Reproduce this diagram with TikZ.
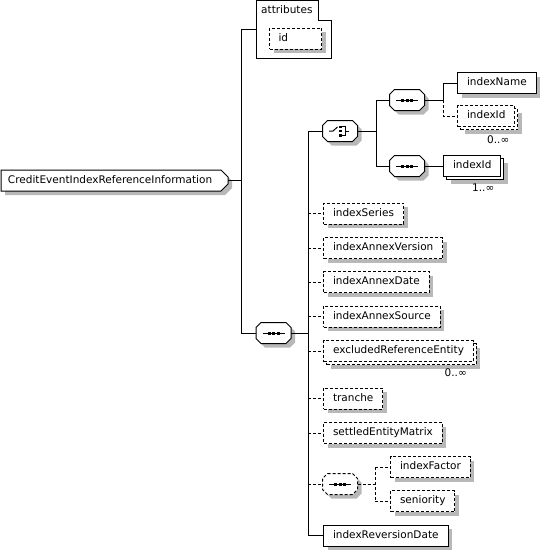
\documentclass[tikz,border=0pt]{standalone}
\usepackage{fontspec}
\setmainfont{DejaVu Sans}
\usetikzlibrary{shadows}
\definecolor{shadowc}{RGB}{184,184,184}
\tikzset{
  diagfont/.style={font=\fontsize{10.5}{12}\selectfont},
  conn/.style={line width=1pt},
  opt/.style={dash pattern=on 3pt off 2pt},
  shadowed/.style={drop shadow={shadow xshift=4pt, shadow yshift=-4pt, fill=shadowc, opacity=1}},
  elem/.style={draw, fill=white, line width=1pt, inner xsep=9.5pt, inner ysep=0pt,
    minimum height=21pt, text height=8pt, text depth=2.5pt, anchor=west, diagfont},
  mult/.style={diagfont, inner sep=0pt, anchor=east},
  hook/.style={inner sep=0pt, minimum width=35pt, minimum height=21pt},
}
% compositor: name, x, y, extra style
\newcommand\compo[4]{%
  \begin{scope}[shift={(#2,#3)}]
    \fill[shadowc] (-8.5,-6.5) -- (16.5,-6.5) -- (21.5,-1.5) -- (21.5,9.5) -- (16.5,14.5) -- (-8.5,14.5) -- (-13.5,9.5) -- (-13.5,-1.5) -- cycle;
    \draw[conn, fill=white, #4] (-12.5,-10.5) -- (12.5,-10.5) -- (17.5,-5.5) -- (17.5,5.5) -- (12.5,10.5) -- (-12.5,10.5) -- (-17.5,5.5) -- (-17.5,-5.5) -- cycle;
    \node[hook] (#1) at (0,0) {};
  \end{scope}}
\newcommand\seqicon[2]{%
  \begin{scope}[shift={(#1,#2)}]
    \draw[conn] (-11,0) -- (11,0);
    \fill (-6,-1.5) rectangle (-3,1.5);
    \fill (-1.5,-1.5) rectangle (1.5,1.5);
    \fill (3,-1.5) rectangle (6,1.5);
  \end{scope}}
\newcommand\choiceicon[2]{%
  \begin{scope}[shift={(#1,#2)}]
    \draw[conn] (-11,0) -- (-7,0) -- (-2.5,-4);
    \fill (-1,-5.5) rectangle (1.5,-3);
    \fill (-1,-1.25) rectangle (1.5,1.25);
    \fill (-1,3) rectangle (1.5,5.5);
    \draw[conn] (1.5,-4.25) -- (5.5,-4.25) -- (5.5,4.25) -- (1.5,4.25);
    \draw[conn] (5.5,0) -- (9,0);
  \end{scope}}
\begin{document}
\begin{tikzpicture}[x=1pt, y=-1pt]
\useasboundingbox (0,0) rectangle (540,551);

% bus coordinates
\coordinate (b0) at (241,0);
\coordinate (b1) at (308,0);
\coordinate (b2) at (376,0);
\coordinate (b3) at (443,0);
\coordinate (b4) at (375,0);

% root element
\fill[shadowc, shift={(4,4)}] (1,170) -- (221,170) -- (228,177) -- (228,184) -- (221,191) -- (1,191) -- cycle;
\draw[conn, fill=white] (1,170) -- (221,170) -- (228,177) -- (228,184) -- (221,191) -- (1,191) -- cycle;
\node[diagfont, minimum width=227pt, minimum height=21pt, inner xsep=7pt, inner ysep=0pt,
      text width=213pt, align=left, text height=8pt, text depth=2.5pt] (root) at (114.5,180.5)
      {CreditEventIndexReferenceInformation};

% attributes
\draw[conn, fill=white] (256,0.5) -- (318,0.5) -- (318,21) -- (331,21) -- (331,59) -- (256,59) -- cycle;
\node[inner sep=0pt, minimum width=75pt, minimum height=58.5pt, anchor=north west] (attr) at (256,0.5) {};
\node[diagfont, inner sep=0pt, anchor=base west] (attrlabel) at (261,14) {attributes};
\node[elem, opt, shadowed, minimum width=52pt, text width=34pt, align=left, inner xsep=9pt] (id) at (269,39) {id};

% compositors
\compo{seq0}{273.5}{333}{}
\seqicon{273.5}{333}
\compo{choice}{340}{131}{}
\choiceicon{340}{131}
\compo{seqA}{407}{100}{}
\seqicon{407}{100}
\compo{seqB}{407}{166}{}
\seqicon{407}{166}
\compo{seqC}{340}{484}{opt}
\seqicon{340}{484}

% elements
\node[elem, shadowed] (indexName) at (457,83) {indexName};
\node[elem, opt, shadowed] (idAback) at (460,119) {\phantom{indexId}};
\node[elem, opt] (idA) at (457,116) {indexId};
\node[mult] (mA) at ([xshift=-6pt, yshift=-24pt]idA.east) {0..∞};
\node[elem, shadowed] (idBback) at (446,169) {\phantom{indexId}};
\node[elem] (idB) at (443,166) {indexId};
\node[mult] (mB) at ([xshift=-7pt, yshift=-22pt]idB.east) {1..∞};

\node[elem, opt, shadowed] (series) at (323,213.5) {indexSeries};
\node[elem, opt, shadowed] (annexVersion) at (323,248) {indexAnnexVersion};
\node[elem, opt, shadowed] (annexDate) at (323,282) {indexAnnexDate};
\node[elem, opt, shadowed] (annexSource) at (323,316.5) {indexAnnexSource};
\node[elem, opt, shadowed] (exclback) at (326,354) {\phantom{excludedReferenceEntity}};
\node[elem, opt] (excl) at (323,351) {excludedReferenceEntity};
\node[mult] (mE) at ([xshift=-7pt, yshift=-22pt]excl.east) {0..∞};
\node[elem, opt, shadowed] (tranche) at (323,398.5) {tranche};
\node[elem, opt, shadowed] (settled) at (323,433) {settledEntityMatrix};
\node[elem, opt, shadowed] (factor) at (390,467) {indexFactor};
\node[elem, opt, shadowed] (seniority) at (390,501) {seniority};
\node[elem, shadowed] (revdate) at (323,535.5) {indexReversionDate};

% connectors: root
\draw[conn] (root.east) -- (root.east -| b0);
\draw[conn] (attr.west -| b0) -- (seq0.west -| b0);
\draw[conn] (attr.west -| b0) -- (attr.west);
\draw[conn] (seq0.west -| b0) -- (seq0.west);

% root sequence
\draw[conn] (seq0.east) -- (seq0.east -| b1);
\draw[conn] (choice.west -| b1) -- (revdate.west -| b1);
\draw[conn] (choice.west -| b1) -- (choice.west);
\draw[conn, opt] (series.west -| b1) -- (series.west);
\draw[conn, opt] (annexVersion.west -| b1) -- (annexVersion.west);
\draw[conn, opt] (annexDate.west -| b1) -- (annexDate.west);
\draw[conn, opt] (annexSource.west -| b1) -- (annexSource.west);
\draw[conn, opt] (excl.west -| b1) -- (excl.west);
\draw[conn, opt] (tranche.west -| b1) -- (tranche.west);
\draw[conn, opt] (settled.west -| b1) -- (settled.west);
\draw[conn, opt] (seqC.west -| b1) -- (seqC.west);
\draw[conn] (revdate.west -| b1) -- (revdate.west);

% choice
\draw[conn] (choice.east) -- (choice.east -| b2);
\draw[conn] (seqA.west -| b2) -- (seqB.west -| b2);
\draw[conn] (seqA.west -| b2) -- (seqA.west);
\draw[conn] (seqB.west -| b2) -- (seqB.west);

% upper sequence
\draw[conn] (seqA.east) -- (seqA.east -| b3);
\draw[conn] (indexName.west -| b3) -- (seqA.east -| b3);
\draw[conn] (indexName.west -| b3) -- (indexName.west);
\draw[conn, opt] (seqA.east -| b3) -- (idA.west -| b3) -- (idA.west);

% lower sequence
\draw[conn] (seqB.east) -- (idB.west);

% optional sequence
\draw[conn, opt] (seqC.east) -- (seqC.east -| b4);
\draw[conn, opt] (factor.west -| b4) -- (seniority.west -| b4);
\draw[conn, opt] (factor.west -| b4) -- (factor.west);
\draw[conn, opt] (seniority.west -| b4) -- (seniority.west);
\end{tikzpicture}
\end{document}
